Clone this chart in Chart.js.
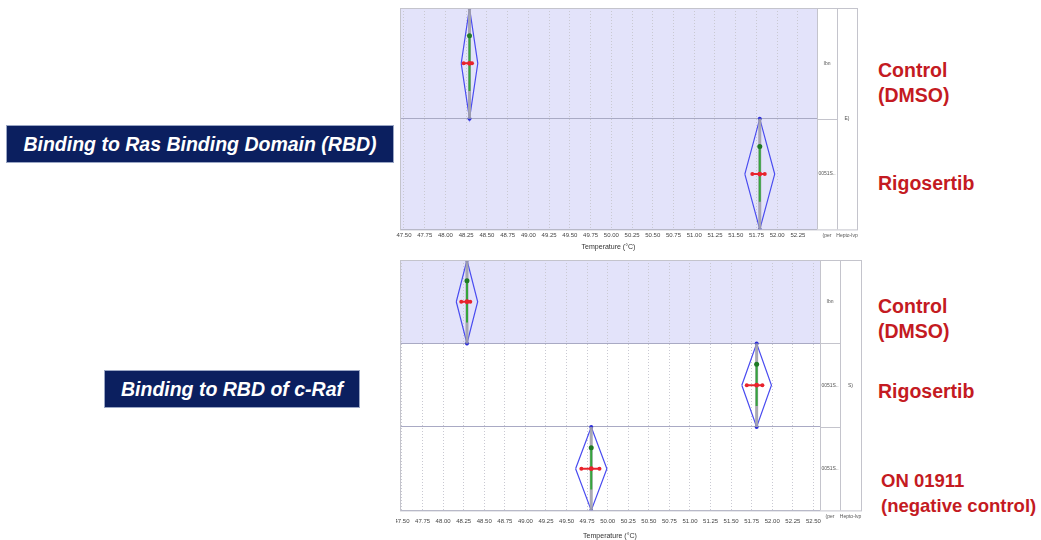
<!DOCTYPE html>
<html>
<head>
<meta charset="utf-8">
<script src="https://cdn.jsdelivr.net/npm/chart.js@4.4.1/dist/chart.umd.min.js"></script>
<style>
  html, body { margin: 0; padding: 0; background: #ffffff; }
  body { width: 1041px; height: 540px; position: relative; overflow: hidden;
         font-family: "Liberation Sans", Arial, sans-serif; }
  .wrap { position: absolute; }
  .tag { position: absolute; background: #0b1f5f; color: #ffffff; font-weight: bold;
         font-style: italic; font-size: 19.5px; display: flex; align-items: center;
         justify-content: center; border: 1px solid #9aa6c4; box-sizing: border-box; }
  .series { position: absolute; color: #c41a22; font-weight: bold; font-size: 19.5px;
            line-height: 25px; white-space: nowrap; }
</style>
</head>
<body>
<div class="tag" style="left:6px;top:125px;width:388px;height:38px;">Binding to Ras Binding Domain (RBD)</div>
<div class="tag" style="left:104px;top:370px;width:256px;height:38px;">Binding to RBD of c-Raf</div>

<div class="series" style="left:878px;top:58px;">Control<br>(DMSO)</div>
<div class="series" style="left:878px;top:171px;">Rigosertib</div>
<div class="series" style="left:878px;top:294px;">Control<br>(DMSO)</div>
<div class="series" style="left:878px;top:379px;">Rigosertib</div>
<div class="series" style="left:881px;top:468px;font-size:18.5px;">ON 01911<br>(negative control)</div>

<div class="wrap" style="left:396px;top:0px;width:466px;height:255px;"><canvas id="rbd"></canvas></div>
<div class="wrap" style="left:396px;top:252px;width:470px;height:292px;"><canvas id="craf"></canvas></div>

<script>
// Ras binding domain: melting temperatures (°C) per sample
const rbdSamples = ['Control (DMSO)', 'Rigosertib'];
const rbdTm = [48.29, 51.79];
const rbdCi = [0.10, 0.18];
const rbdSpreadLo = [48.22, 51.70];
const rbdSpreadHi = [48.32, 51.85];
const rbdSelected = [0, 1];
const rbdWellTags = ['Ibn', '0051S..'];

// c-Raf RBD: melting temperatures (°C) per sample
const crafSamples = ['Control (DMSO)', 'Rigosertib', 'ON 01911 (negative control)'];
const crafTm = [48.29, 51.81, 49.80];
const crafCi = [0.13, 0.18, 0.19];
const crafSpreadLo = [48.22, 51.69, 49.68];
const crafSpreadHi = [48.33, 51.88, 49.90];
const crafSelected = [0];
const crafWellTags = ['Ibn', '0051S..', '0051S..'];

const tempTickStep = 0.25;
const columnHeads = ['(per', 'Hepto-lvp'];

// datasets listed first are painted on top
function buildDatasets(tm, ci, lo, hi) {
  const sets = [];
  tm.forEach((t, i) => {
    // red horizontal spread
    sets.push({ data: [{x: lo[i], y: i + 0.5}, {x: t, y: i + 0.5}, {x: hi[i], y: i + 0.5}],
      borderColor: '#e8232c', borderWidth: 2, pointRadius: [2, 2.4, 2], pointBackgroundColor: '#e8232c',
      pointBorderWidth: 0, showLine: true });
    // green replicate range with top marker
    sets.push({ data: [{x: t, y: i + 0.25}, {x: t, y: i + 0.75}], borderColor: '#35a53c',
      borderWidth: 2, pointRadius: [2.5, 0], pointBackgroundColor: '#1f7a25',
      pointBorderWidth: 0, showLine: true });
    // gray stem across the full row
    sets.push({ data: [{x: t, y: i}, {x: t, y: i + 1}], borderColor: 'rgba(160,160,170,0.9)',
      borderWidth: 3, pointRadius: 0, showLine: true });
    // confidence diamond
    sets.push({ data: [{x: t - ci[i], y: i + 0.5}, {x: t, y: i}, {x: t + ci[i], y: i + 0.5},
                       {x: t, y: i + 1}, {x: t - ci[i], y: i + 0.5}],
      borderColor: '#4a4cf0', borderWidth: 1.2, pointRadius: [0, 2, 0, 2, 0],
      pointBackgroundColor: '#2c2ed8', pointBorderWidth: 0, showLine: true, tension: 0 });
  });
  return sets;
}

// frame, selection shading and the side columns of the table
function tablePlugin(selected, tags, colWidths, spanTag) {
  return {
    id: 'tableFrame',
    beforeDraw(chart) {
      const {ctx, chartArea: a, scales: {y}} = chart;
      ctx.save();
      ctx.fillStyle = '#e3e3fa';
      selected.forEach(r => {
        const y0 = y.getPixelForValue(r), y1 = y.getPixelForValue(r + 1);
        ctx.fillRect(a.left, y0, a.right - a.left, y1 - y0);
      });
      ctx.restore();
    },
    afterDraw(chart) {
      const {ctx, chartArea: a, scales: {y}} = chart;
      const n = tags.length;
      const c1 = a.right + colWidths[0], c2 = c1 + colWidths[1];
      ctx.save();
      ctx.strokeStyle = '#c4c4cc';
      ctx.lineWidth = 1;
      ctx.strokeRect(a.left + 0.5, a.top + 0.5, c2 - a.left, a.bottom - a.top);
      ctx.beginPath();
      ctx.moveTo(a.right + 0.5, a.top); ctx.lineTo(a.right + 0.5, a.bottom);
      ctx.moveTo(c1 + 0.5, a.top); ctx.lineTo(c1 + 0.5, a.bottom);
      for (let r = 1; r < n; r++) {
        const py = Math.round(y.getPixelForValue(r)) + 0.5;
        ctx.moveTo(a.right, py); ctx.lineTo(c1, py);
      }
      ctx.stroke();
      ctx.fillStyle = '#555';
      ctx.font = '5px "Liberation Sans", Arial, sans-serif';
      ctx.textAlign = 'center';
      ctx.textBaseline = 'middle';
      tags.forEach((t, r) => ctx.fillText(t, (a.right + c1) / 2, y.getPixelForValue(r + 0.5)));
      ctx.fillText(spanTag.text, (c1 + c2) / 2, y.getPixelForValue(spanTag.row));
      const ly = a.bottom + 6;
      ctx.fillText(columnHeads[0], (a.right + c1) / 2, ly);
      ctx.fillText(columnHeads[1], (c1 + c2) / 2, ly);
      ctx.restore();
    }
  };
}

function makeChart(id, tm, ci, lo, hi, selected, tags, xMin, xMax, pad, colWidths, spanTag, tickPad, titlePad) {
  return new Chart(document.getElementById(id), {
    type: 'scatter',
    data: { datasets: buildDatasets(tm, ci, lo, hi) },
    options: {
      responsive: true,
      maintainAspectRatio: false,
      animation: false,
      layout: { padding: pad },
      plugins: { legend: { display: false }, tooltip: { enabled: false } },
      scales: {
        x: {
          type: 'linear', min: xMin, max: xMax,
          afterFit(scale) { scale.paddingLeft = 0; scale.paddingRight = 0; },
          ticks: { stepSize: tempTickStep, includeBounds: false, autoSkip: false, maxRotation: 0,
                   padding: tickPad, color: '#444', font: { size: 6, family: '"Liberation Sans", Arial' },
                   callback: v => Number(v).toFixed(2) },
          grid: { color: '#c9c9d2', drawTicks: false, lineWidth: 1 },
          border: { display: false, dash: [1, 2] },
          title: { display: true, text: 'Temperature (°C)', color: '#333',
                   font: { size: 7, family: '"Liberation Sans", Arial' }, padding: titlePad }
        },
        y: {
          type: 'linear', min: 0, max: tm.length, reverse: true,
          afterFit(scale) { scale.width = 0; },
          ticks: { display: false, stepSize: 1 },
          grid: { color: '#a9aac4', drawTicks: false, lineWidth: 1 },
          border: { display: false }
        }
      }
    },
    plugins: [tablePlugin(selected, tags, colWidths, spanTag)]
  });
}

makeChart('rbd', rbdTm, rbdCi, rbdSpreadLo, rbdSpreadHi, rbdSelected, rbdWellTags,
  47.452, 52.48, { left: 4, top: 8, right: 45, bottom: 2 }, [20, 20], { text: 'E)', row: 1 },
  2, { top: 2, bottom: 2 });
makeChart('craf', crafTm, crafCi, crafSpreadLo, crafSpreadHi, crafSelected, crafWellTags,
  47.476, 52.58, { left: 4, top: 8, right: 46, bottom: 2 }, [20, 21], { text: 'S)', row: 1.5 },
  7, { top: 0, bottom: 2 });
</script>
</body>
</html>
